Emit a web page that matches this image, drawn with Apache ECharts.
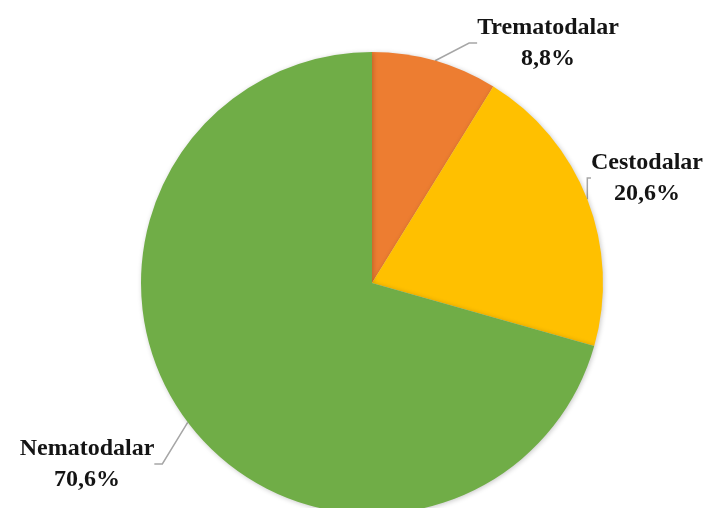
<!DOCTYPE html>
<html>
<head>
<meta charset="utf-8">
<script src="https://cdn.jsdelivr.net/npm/echarts@6/dist/echarts.min.js"></script>
<style>
  html, body { margin: 0; padding: 0; background: #fff; }
  #chart { width: 713px; height: 508px; }
</style>
</head>
<body>
<div id="chart"></div>
<script>
// Parasite group shares (%)
const categories = ['Trematodalar', 'Cestodalar', 'Nematodalar'];
const shares = [8.8, 20.6, 70.6];
const colors = ['#ED7D31', '#FFC000', '#70AD47'];

// Label anchor points (text centres) for each slice
const labelSpots = [
  { x: 548, y: 43 },
  { x: 647, y: 178 },
  { x: 87, y: 464 }
];

const chart = echarts.init(document.getElementById('chart'));

const fmt = v => v.toFixed(1).replace('.', ',') + '%';

chart.setOption({
  animation: false,
  series: [{
    type: 'pie',
    center: [372, 283],
    radius: 231,
    startAngle: 90,
    clockwise: true,
    data: categories.map((name, i) => ({
      name,
      value: shares[i],
      itemStyle: { color: colors[i] }
    })),
    itemStyle: {
      shadowBlur: 5,
      shadowColor: 'rgba(0,0,0,0.22)',
      shadowOffsetX: 1,
      shadowOffsetY: 1
    },
    label: {
      show: true,
      position: 'outside',
      formatter: p => p.name + '\n' + fmt(p.value),
      fontFamily: 'Liberation Serif, Times New Roman, serif',
      fontWeight: 'bold',
      fontSize: 24,
      lineHeight: 31,
      color: '#141414',
      align: 'center',
      overflow: 'none'
    },
    labelLine: {
      show: true,
      length: 8,
      length2: 8,
      lineStyle: { color: '#A6A6A6', width: 1.5 }
    },
    labelLayout: params => {
      const s = labelSpots[params.dataIndex];
      return { x: s.x, y: s.y, align: 'center', verticalAlign: 'middle' };
    }
  }]
});
</script>
</body>
</html>
